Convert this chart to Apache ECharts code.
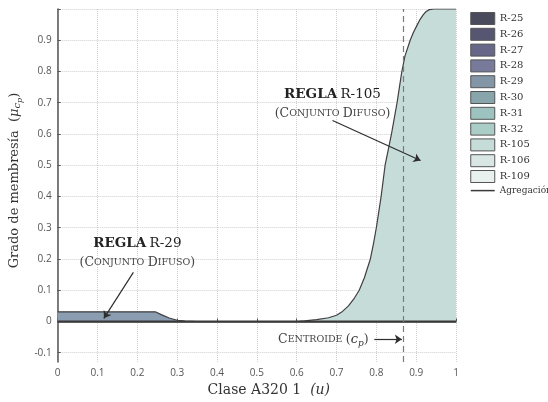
<!DOCTYPE html>
<html>
<head>
<meta charset="utf-8">
<script src="https://cdn.jsdelivr.net/npm/echarts@6/dist/echarts.min.js"></script>
<style>
  html, body { margin: 0; padding: 0; background: #fff; }
  #chart { width: 548px; height: 402px; }
</style>
</head>
<body>
<div id="chart"></div>
<script>
// conjuntos difusos (nombre, color)
const setNames = ['R-25', 'R-26', 'R-27', 'R-28', 'R-29', 'R-30', 'R-31', 'R-32', 'R-105', 'R-106', 'R-109'];
const setColors = ['#4b4b5e', '#575672', '#67678a', '#777a9a', '#8396a8', '#88a5ac', '#9cc3bf', '#abcdc7', '#c6dcd9', '#d8e7e4', '#e9f1ef'];

// R-29 (u, mu)
const r29 = [[0, 0.031], [0.245, 0.031], [0.26, 0.022], [0.28, 0.011], [0.30, 0.004], [0.32, 0.0015], [0.35, 0]];
// R-105 (u, mu)
const r105 = [
  [0.60, 0], [0.62, 0.002], [0.65, 0.006], [0.68, 0.012], [0.70, 0.02], [0.713, 0.03], [0.73, 0.05],
  [0.745, 0.075], [0.757, 0.1], [0.77, 0.14], [0.785, 0.2], [0.793, 0.25], [0.80, 0.3], [0.806, 0.35],
  [0.812, 0.4], [0.817, 0.45], [0.822, 0.5], [0.83, 0.55], [0.838, 0.6], [0.845, 0.65], [0.852, 0.7],
  [0.858, 0.75], [0.864, 0.8], [0.872, 0.85], [0.885, 0.9], [0.893, 0.925], [0.903, 0.95], [0.91, 0.967],
  [0.918, 0.982], [0.925, 0.992], [0.933, 0.998], [0.945, 1.0], [1.0, 1.0]
];
const aggregation = [[0, 0], [1, 0]];
const centroid = 0.868;

const yTicks = [-0.1, 0, 0.1, 0.2, 0.3, 0.4, 0.5, 0.6, 0.7, 0.8, 0.9, 1.0];
const yLabels = [-0.1, 0, 0.1, 0.2, 0.3, 0.4, 0.5, 0.6, 0.7, 0.8, 0.9];

const serif = '"DejaVu Serif", "Liberation Serif", serif';
const sans = '"Open Sans", "Noto Sans", sans-serif';

const chart = echarts.init(document.getElementById('chart'));

const curves = { 'R-29': r29, 'R-105': r105 };

const series = setNames.map((name, i) => ({
  name: name,
  type: 'line',
  data: curves[name] || [],
  symbol: 'none',
  color: setColors[i],
  lineStyle: { color: '#3f3f3f', width: 1.2 },
  areaStyle: { color: name === 'R-29' ? '#8b9db0' : setColors[i], opacity: 1 },
  z: 3
}));

series.push({
  name: 'Agregación',
  type: 'line',
  data: aggregation,
  symbol: 'none',
  color: '#3a3a3a',
  lineStyle: { color: '#3a3a3a', width: 2.2 },
  z: 4
});

const small = { fontFamily: serif, fontSize: 9.5, color: '#444' };
const big = { fontFamily: serif, fontSize: 12.5, color: '#444' };

// anotaciones y flechas
series.push({
  name: 'notas',
  type: 'line',
  data: [],
  silent: true,
  markLine: {
    silent: true,
    symbol: ['none', 'arrow'],
    symbolSize: 7,
    label: { show: false },
    lineStyle: { color: '#2e2e2e', width: 1.2, type: 'solid' },
    data: [
      [{ coord: [0.19, 0.157] }, { coord: [0.116, 0.01] }],
      [{ coord: [0.69, 0.643] }, { coord: [0.911, 0.515] }],
      [{ coord: [0.795, -0.057] }, { coord: [0.864, -0.057] }],
      [
        { coord: [centroid, -0.13], symbol: 'none', lineStyle: { color: '#7a7a7a', type: [6, 4], width: 1.2 } },
        { coord: [centroid, 1.0], symbol: 'none' }
      ]
    ]
  },
  markPoint: {
    symbol: 'circle',
    symbolSize: 0,
    silent: true,
    label: {
      show: true,
      rich: {
        b: { fontFamily: serif, fontSize: 13.5, fontWeight: 'bold', color: '#222' },
        n: { fontFamily: serif, fontSize: 13.5, color: '#222' },
        B: big,
        s: small,
        i: { fontFamily: serif, fontSize: 13, fontStyle: 'italic', color: '#333' },
        sub: { fontFamily: serif, fontSize: 9, fontStyle: 'italic', color: '#333', padding: [8, 0, 0, 0] }
      }
    },
    data: [
      { coord: [0.2, 0.249], label: { formatter: '{b|REGLA} {n|R-29}' } },
      { coord: [0.2, 0.188], label: { formatter: '{B|(C}{s|ONJUNTO} {B|D}{s|IFUSO}{B|)}' } },
      { coord: [0.69, 0.727], label: { formatter: '{b|REGLA} {n|R-105}' } },
      { coord: [0.69, 0.666], label: { formatter: '{B|(C}{s|ONJUNTO} {B|D}{s|IFUSO}{B|)}' } },
      { coord: [0.667, -0.057], label: { formatter: '{B|C}{s|ENTROIDE} {B|(}{i|c}{sub|p}{B|)}' } }
    ]
  }
});

const option = {
  animation: false,
  grid: { left: 54, right: 92, top: 9, bottom: 39 },
  legend: {
    orient: 'vertical',
    left: 465,
    top: 7,
    itemWidth: 24,
    itemHeight: 12,
    itemGap: 2.8,
    textStyle: { fontFamily: serif, fontSize: 10, color: '#333' },
    data: setNames.map((name, i) => ({
      name: name,
      icon: 'rect',
      itemStyle: { color: setColors[i], borderColor: '#555', borderWidth: 1 }
    })).concat([{
      name: 'Agregación',
      itemStyle: { opacity: 0 },
      lineStyle: { color: '#3a3a3a', width: 1.5 },
      textStyle: { fontSize: 9 }
    }])
  },
  xAxis: {
    type: 'value',
    min: 0,
    max: 1,
    interval: 0.1,
    name: 'Clase A320 1  {i|(u)}',
    nameLocation: 'middle',
    nameGap: 20,
    nameTextStyle: {
      fontFamily: serif, fontSize: 14, color: '#333', padding: [0, 0, 0, 24],
      rich: { i: { fontFamily: serif, fontSize: 14, fontStyle: 'italic', color: '#333' } }
    },
    axisLine: { lineStyle: { color: '#555', width: 1.5 } },
    axisTick: { inside: true, length: 3, lineStyle: { color: '#555' } },
    axisLabel: { fontFamily: sans, fontSize: 10, color: '#555', margin: 6, formatter: v => String(+v.toFixed(1)) },
    splitLine: { show: true, lineStyle: { color: '#cfcfcf', type: 'dotted', width: 1 } }
  },
  yAxis: {
    type: 'value',
    min: -0.13,
    max: 1.0,
    name: '{a|Grado de membresía  (}{m|μ}{s|c}{p|p}{a|)}',
    nameLocation: 'middle',
    nameGap: 27,
    nameTextStyle: {
      padding: [0, 0, 0, 10],
      rich: {
        a: { fontFamily: serif, fontSize: 13, color: '#333' },
        m: { fontFamily: serif, fontSize: 13, fontStyle: 'italic', color: '#333' },
        s: { fontFamily: serif, fontSize: 10, fontStyle: 'italic', color: '#333', padding: [6, 0, 0, 0] },
        p: { fontFamily: serif, fontSize: 8, fontStyle: 'italic', color: '#333', padding: [10, 0, 0, 0] }
      }
    },
    axisLine: { show: true, lineStyle: { color: '#555', width: 1.5 } },
    axisTick: { show: true, inside: true, length: 3, lineStyle: { color: '#555' }, customValues: yTicks },
    axisLabel: { fontFamily: sans, fontSize: 10, color: '#555', margin: 6, customValues: yLabels, formatter: v => String(+v.toFixed(1)) },
    splitLine: { show: true, lineStyle: { color: '#cfcfcf', type: 'dotted', width: 1 } }
  },
  series: series
};

chart.setOption(option);
</script>
</body>
</html>
